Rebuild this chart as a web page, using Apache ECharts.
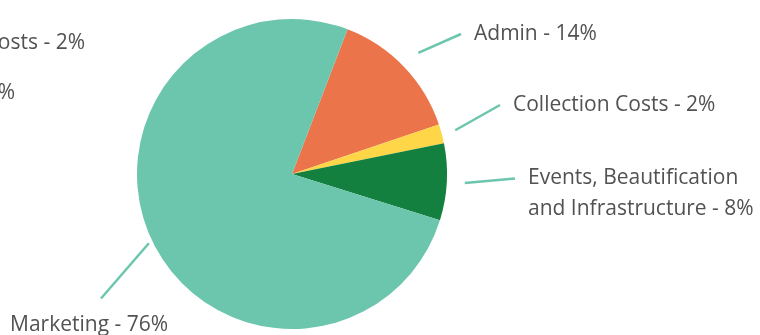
<!DOCTYPE html>
<html>
<head>
<meta charset="utf-8">
<script src="https://cdn.jsdelivr.net/npm/echarts@6/dist/echarts.min.js"></script>
<style>
  html, body { margin: 0; padding: 0; background: #fff; }
  #chart { width: 760px; height: 335px; }
</style>
</head>
<body>
<div id="chart"></div>
<script>
// Budget split, in percent
const categories = ['Admin', 'Collection Costs', 'Events, Beautification\nand Infrastructure', 'Marketing'];
const shares = [14, 2, 8, 76];
const sliceColors = ['#EB744B', '#FED647', '#13803F', '#6CC6AE'];

// Stray labels cut off at the left edge
const strayLabels = ['Collection Costs - 2%', 'Admin - 14%'];

// Label placement (layout only)
const labelSpots = [
  { x: 474, y: 34, align: 'left' },
  { x: 513, y: 105, align: 'left' },
  { x: 528, y: 194, align: 'left' },
  { x: 10, y: 325, align: 'left' }
];
const lineGaps = [20, 14, 18, 4];

const chart = echarts.init(document.getElementById('chart'), null, { renderer: 'canvas' });

const FONT = '"Open Sans", "DejaVu Sans", sans-serif';
const LINE_H = 31;
const TEXT_COLOR = '#525252';

chart.setOption({
  animation: false,
  graphic: [
    { type: 'text', x: 85, y: 43, style: { text: strayLabels[0], align: 'right', verticalAlign: 'middle', fontSize: 21, fontFamily: FONT, fill: TEXT_COLOR } },
    { type: 'text', x: 15, y: 93, style: { text: strayLabels[1], align: 'right', verticalAlign: 'middle', fontSize: 21, fontFamily: FONT, fill: TEXT_COLOR } }
  ],
  series: [{
    type: 'pie',
    center: [292, 174],
    radius: 155,
    startAngle: 69,
    clockwise: true,
    avoidLabelOverlap: false,
    data: categories.map((name, i) => ({ name, value: shares[i], itemStyle: { color: sliceColors[i] } })),
    label: {
      show: true,
      position: 'outside',
      formatter: '{b} - {c}%',
      fontFamily: FONT,
      fontSize: 21,
      lineHeight: LINE_H,
      color: TEXT_COLOR
    },
    labelLine: {
      show: true,
      length: 20,
      length2: 10,
      lineStyle: { color: '#6CC6AE', width: 2.5 }
    },
    labelLayout: function (params) {
      const i = params.dataIndex;
      const spot = labelSpots[i];
      const pts = params.labelLinePoints;
      const p0 = pts[0], p1 = pts[1];
      const dx = p1[0] - p0[0], dy = p1[1] - p0[1];
      const len = Math.hypot(dx, dy) || 1;
      const start = [p0[0] + dx / len * lineGaps[i], p0[1] + dy / len * lineGaps[i]];
      const lines = params.text.split('\n').length;
      const top = spot.y - lines * LINE_H / 2;
      let end;
      if (spot.x > 292) {
        end = [spot.x - 13, top + LINE_H / 2];
      } else {
        end = [spot.x + 91, top - 11];
      }
      return {
        x: spot.x,
        y: spot.y,
        align: spot.align,
        verticalAlign: 'middle',
        labelLinePoints: [start, end]
      };
    }
  }]
});
</script>
</body>
</html>
